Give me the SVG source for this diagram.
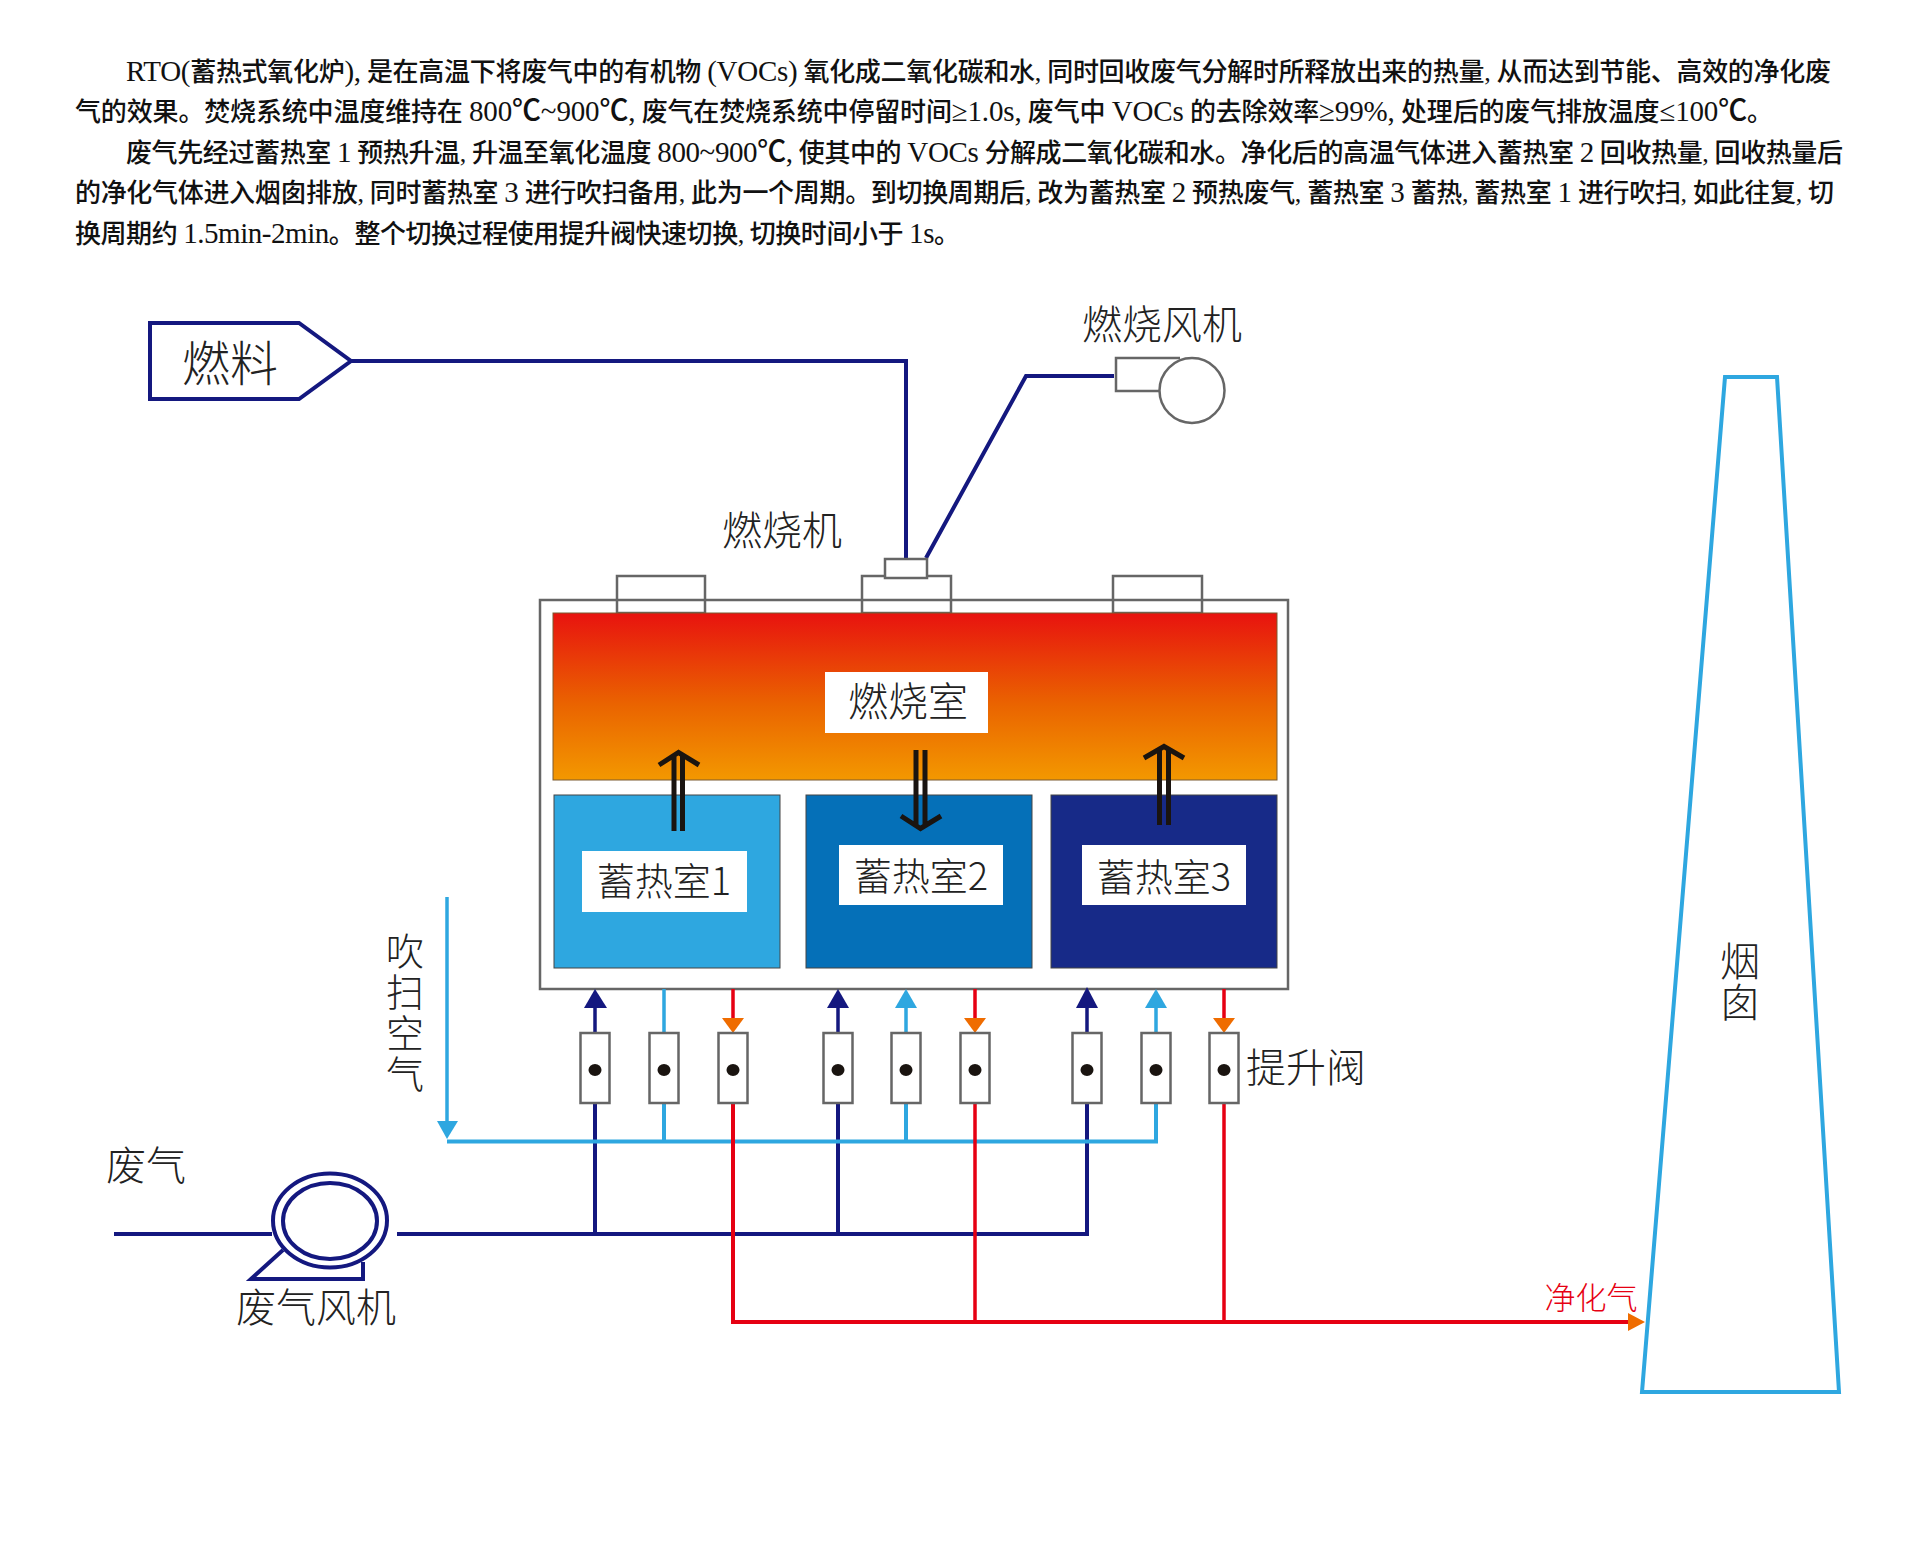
<svg xmlns="http://www.w3.org/2000/svg" width="1920" height="1548" viewBox="0 0 1920 1548">
<style>
.para{font-family:"Liberation Serif","Noto Sans CJK SC",serif;font-size:26px;font-weight:500;fill:#111}
.para tspan{font-size:29px}
.lb{font-family:"Noto Sans CJK SC","Noto Sans",sans-serif;font-weight:300;fill:#222;font-size:38px}
.vt{writing-mode:vertical-rl;text-anchor:start}
.gr{fill:none;stroke:#666;stroke-width:2.5}
.grw{fill:#fff;stroke:#666;stroke-width:2.5}
.navy{fill:none;stroke:#14187f;stroke-width:3.5}
.sky{fill:none;stroke:#2ea7e0;stroke-width:3.5}
.red{fill:none;stroke:#e60012;stroke-width:3.5}
.dbl{fill:none;stroke:#1a1410;stroke-width:5}
.hn{fill:#14187f}.hs{fill:#2ea7e0}.ho{fill:#ef6c00}
.wh{fill:#fff}
</style>
<defs>
<linearGradient id="fire" x1="0" y1="0" x2="0" y2="1"><stop offset="0" stop-color="#e8130f"/><stop offset=".55" stop-color="#ea6400"/><stop offset="1" stop-color="#f39800"/></linearGradient>
<g id="v"><rect class="grw" x="-14.500" y="1033" width="29" height="70"/><ellipse cx="0" cy="1070" rx="6.500" ry="6" fill="#1a1410"/></g>
</defs>
<rect width="1920" height="1548" fill="#fff"/>
<g id="description">
<text class="para" x="126" y="81" textLength="1705"><tspan>RTO(</tspan>蓄热式氧化炉<tspan>),</tspan> 是在高温下将废气中的有机物 <tspan>(VOCs)</tspan> 氧化成二氧化碳和水, 同时回收废气分解时所释放出来的热量, 从而达到节能、高效的净化废</text>
<text class="para" x="75" y="121" textLength="1698">气的效果。焚烧系统中温度维持在 <tspan>800℃~900℃,</tspan> 废气在焚烧系统中停留时间<tspan>≥1.0s,</tspan> 废气中 <tspan>VOCs</tspan> 的去除效率<tspan>≥99%,</tspan> 处理后的废气排放温度<tspan>≤100℃</tspan>。</text>
<text class="para" x="126" y="162" textLength="1717">废气先经过蓄热室 <tspan>1</tspan> 预热升温, 升温至氧化温度 <tspan>800~900℃,</tspan> 使其中的 <tspan>VOCs</tspan> 分解成二氧化碳和水。净化后的高温气体进入蓄热室 <tspan>2</tspan> 回收热量, 回收热量后</text>
<text class="para" x="75" y="202" textLength="1759">的净化气体进入烟囱排放, 同时蓄热室 <tspan>3</tspan> 进行吹扫备用, 此为一个周期。到切换周期后, 改为蓄热室 <tspan>2</tspan> 预热废气, 蓄热室 <tspan>3</tspan> 蓄热, 蓄热室 <tspan>1</tspan> 进行吹扫, 如此往复, 切</text>
<text class="para" x="75" y="243" textLength="885">换周期约 <tspan>1.5min-2min</tspan>。整个切换过程使用提升阀快速切换, 切换时间小于 <tspan>1s</tspan>。</text>
</g>
<g id="rto-body">
<rect class="gr" x="540" y="600" width="748" height="389"/>
<rect class="gr" x="617" y="576" width="88" height="37"/>
<rect class="gr" x="862" y="576" width="89" height="37"/>
<rect class="gr" x="1113" y="576" width="89" height="37"/>
</g>
<g id="combustion-chamber">
<rect x="553" y="613" width="724" height="167" fill="url(#fire)" stroke="#7a5a30" stroke-width="1"/>
<rect class="wh" x="825" y="672" width="163" height="61"/>
<text class="lb" x="908" y="716" text-anchor="middle" style="font-size:40px">燃烧室</text>
</g>
<g id="regen-1">
<rect x="554" y="795" width="226" height="173" fill="#2ea7e0" stroke="#444" stroke-width="1"/>
<rect class="wh" x="582" y="851" width="165" height="61"/>
<text class="lb" x="664" y="895" text-anchor="middle">蓄热室1</text>
</g>
<g id="regen-2">
<rect x="806" y="795" width="226" height="173" fill="#0570b8" stroke="#444" stroke-width="1"/>
<rect class="wh" x="839" y="845" width="164" height="60"/>
<text class="lb" x="921" y="890" text-anchor="middle">蓄热室2</text>
</g>
<g id="regen-3">
<rect x="1051" y="795" width="226" height="173" fill="#172a88" stroke="#444" stroke-width="1"/>
<rect class="wh" x="1082" y="845" width="164" height="60"/>
<text class="lb" x="1164" y="891" text-anchor="middle">蓄热室3</text>
</g>
<g id="flow-arrows">
<path class="dbl" d="M674 831V756M682.500 831V756M659 765L678.500 752.500L699 765"/>
<path class="dbl" d="M916 750V826M925 750V826M901 816L920.500 828.500L941 816"/>
<path class="dbl" d="M1159.500 825V750M1168.500 825V750M1144 758L1164 746.500L1184 758"/>
</g>
<g id="connectors">
<path class="navy" style="stroke-width:4" d="M350 361H906V558"/>
<path class="navy" style="stroke-width:4" d="M926 558L1026 376H1114"/>
<path class="navy" style="stroke-width:4" d="M114 1234H272M397 1234H1087V1103M595 1234V1103M838 1234V1103"/>
<path class="navy" d="M595 1033V1005M838 1033V1005M1087 1033V1005"/>
<path class="sky" d="M447 897V1125"/>
<path class="sky" style="stroke-width:4" d="M447 1141.500H1156V1103M664 1141.500V1103M906 1141.500V1103"/>
<path class="sky" d="M664 1033V989M906 1033V1005M1156 1033V1005"/>
<path class="red" d="M975 1103V1322M1224 1103V1322M733 989V1020M975 989V1020M1224 989V1020"/>
<path class="red" style="stroke-width:4" d="M733 1103V1322H1632"/>
<polygon class="hn" points="595,989 584,1008 607,1008"/>
<polygon class="hn" points="838,989 827,1008 849,1008"/>
<polygon class="hn" points="1087,987 1076,1008 1098,1008"/>
<polygon class="hs" points="906,989 895,1008 917,1008"/>
<polygon class="hs" points="1156,989 1145,1008 1167,1008"/>
<polygon class="ho" points="733,1033 722,1018 744,1018"/>
<polygon class="ho" points="975,1033 964,1018 986,1018"/>
<polygon class="ho" points="1224,1033 1213,1018 1235,1018"/>
<polygon class="hs" points="447,1139 437,1121 458,1121"/>
<polygon class="ho" points="1645,1322 1628,1313 1628,1331"/>
</g>
<g id="valves">
<use href="#v" x="595"/><use href="#v" x="664"/><use href="#v" x="733"/>
<use href="#v" x="838"/><use href="#v" x="906"/><use href="#v" x="975"/>
<use href="#v" x="1087"/><use href="#v" x="1156"/><use href="#v" x="1224"/>
<text class="lb" x="1246" y="1082" style="font-size:40px">提升阀</text>
</g>
<g id="fuel">
<polygon points="150,323 299,323 351,361 299,399 150,399" fill="#fff" stroke="#14187f" stroke-width="4"/>
<text class="lb" x="182" y="381" style="font-size:48px">燃料</text>
</g>
<g id="combustion-fan">
<path class="gr" d="M1180 358H1116V391H1160"/>
<circle class="gr" cx="1192" cy="390.500" r="32.500"/>
<text class="lb" x="1082" y="339" style="font-size:40px">燃烧风机</text>
</g>
<g id="burner">
<rect class="grw" x="885" y="559" width="42" height="19"/>
<text class="lb" x="722" y="545" style="font-size:40px">燃烧机</text>
</g>
<g id="waste-fan">
<ellipse cx="330" cy="1220.500" rx="57" ry="47" fill="#fff" stroke="#14187f" stroke-width="4"/>
<ellipse cx="330" cy="1221" rx="47" ry="38" fill="#fff" stroke="#14187f" stroke-width="4"/>
<path fill="none" stroke="#14187f" stroke-width="4" d="M283 1250L251 1279H363V1262"/>
<text class="lb" x="236" y="1322" style="font-size:40px">废气风机</text>
<text class="lb" x="106" y="1180" style="font-size:40px">废气</text>
</g>
<g id="purge-label">
<text class="lb vt" x="405" y="932" letter-spacing="3">吹扫空气</text>
</g>
<g id="chimney">
<polygon points="1725,377 1777,377 1839,1392 1642,1392" fill="#fff" stroke="#2ea7e0" stroke-width="4"/>
<text class="lb vt" x="1740" y="941" letter-spacing="1" style="font-size:40px">烟囱</text>
<text class="lb" x="1591" y="1309" text-anchor="middle" style="font-size:31px;fill:#e60012">净化气</text>
</g>
</svg>
